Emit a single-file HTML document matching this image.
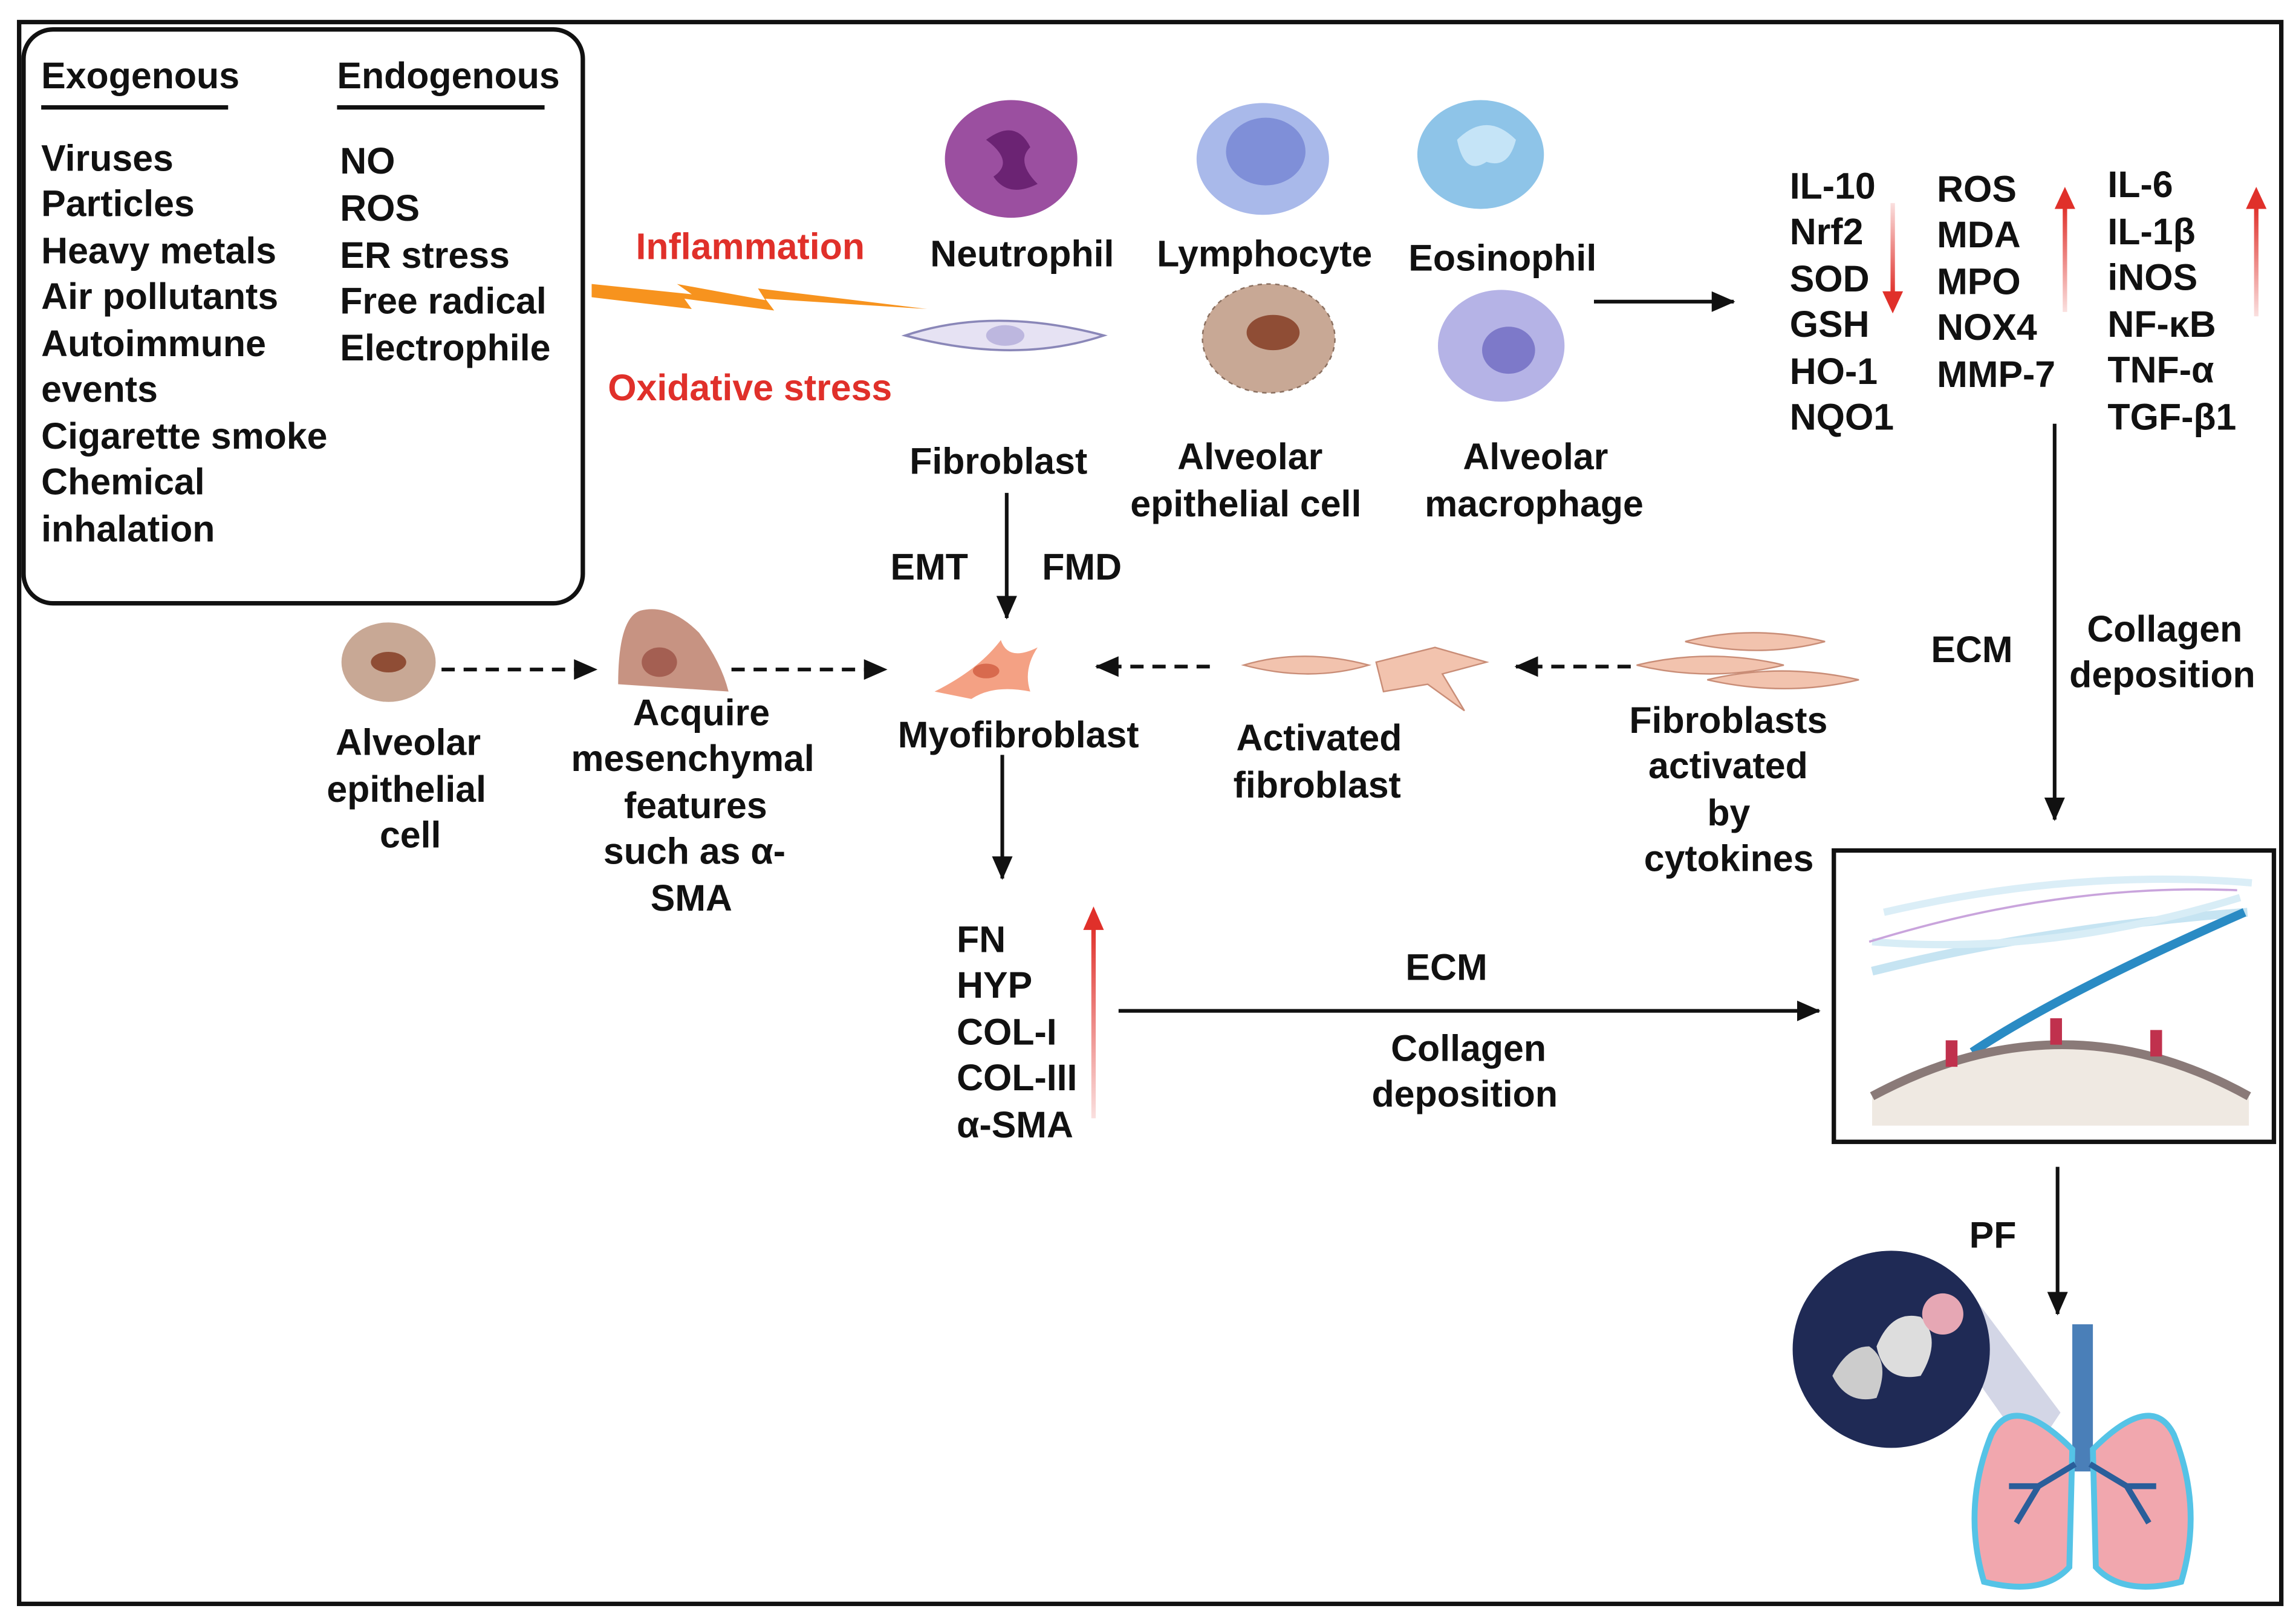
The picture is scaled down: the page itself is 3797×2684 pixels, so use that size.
<!DOCTYPE html>
<html><head><meta charset="utf-8"><style>
html,body{margin:0;padding:0;background:#fff;}
svg{display:block;}
text{font-family:"Liberation Sans",Arial,sans-serif;font-weight:bold;font-size:25px;fill:#111;}
</style></head><body>
<svg width="3797" height="2684" viewBox="0 0 1560 1103" preserveAspectRatio="none" xmlns="http://www.w3.org/2000/svg">
<defs>
<marker id="ahb" markerWidth="16" markerHeight="14" refX="15" refY="7" orient="auto" markerUnits="userSpaceOnUse"><path d="M0,0 L16,7 L0,14 z" fill="#111"/></marker>
<linearGradient id="rg" x1="0" y1="0" x2="0" y2="1"><stop offset="0" stop-color="#e0302a"/><stop offset="1" stop-color="#e0302a" stop-opacity="0.15"/></linearGradient>
<linearGradient id="rgd" x1="0" y1="1" x2="0" y2="0"><stop offset="0" stop-color="#e0302a"/><stop offset="1" stop-color="#e0302a" stop-opacity="0.15"/></linearGradient>
</defs>
<rect x="0" y="0" width="1560" height="1103" fill="#fff"/>
<rect x="13" y="15" width="1537" height="1075" fill="none" stroke="#111" stroke-width="3"/>
<rect x="16" y="20" width="380" height="390" rx="20" fill="none" stroke="#111" stroke-width="3"/>

<text x="28" y="60">Exogenous</text>
<line x1="28" y1="73" x2="155" y2="73" stroke="#111" stroke-width="3"/>
<text x="229" y="60">Endogenous</text>
<line x1="229" y1="73" x2="370" y2="73" stroke="#111" stroke-width="3"/>
<text x="28" y="116">Viruses</text>
<text x="28" y="147">Particles</text>
<text x="28" y="179">Heavy metals</text>
<text x="28" y="210">Air pollutants</text>
<text x="28" y="242">Autoimmune</text>
<text x="28" y="273">events</text>
<text x="28" y="305">Cigarette smoke</text>
<text x="28" y="336">Chemical</text>
<text x="28" y="368">inhalation</text>
<text x="231" y="118">NO</text>
<text x="231" y="150">ROS</text>
<text x="231" y="182">ER stress</text>
<text x="231" y="213">Free radical</text>
<text x="231" y="245">Electrophile</text>

<text x="432" y="176" style="fill:#e0302a">Inflammation</text>
<text x="413" y="272" style="fill:#e0302a">Oxidative stress</text>
<polygon points="402,193 470,200 460,193 520,204 515,196 630,210 520,203 526,211 465,203 470,210 402,202" fill="#f7931e"/>

<ellipse cx="687" cy="108" rx="45" ry="40" fill="#9b4fa0"/><path d="M670,95 q20,-15 30,5 q-10,10 5,25 q-20,10 -30,-5 q15,-10 -5,-25z" fill="#6b2373"/>
<text x="632" y="181">Neutrophil</text>
<ellipse cx="858" cy="108" rx="45" ry="38" fill="#a9b9ea"/><ellipse cx="860" cy="103" rx="27" ry="23" fill="#7f8fd8"/>
<text x="786" y="181">Lymphocyte</text>
<ellipse cx="1006" cy="105" rx="43" ry="37" fill="#8ec4e8"/><path d="M990,95 q20,-20 40,0 q-5,20 -20,15 q-15,10 -20,-15z" fill="#c5e4f7"/>
<text x="957" y="184">Eosinophil</text>
<path d="M615,228 q60,-20 135,0 q-60,20 -135,0z" fill="#e6e2f3" stroke="#8a87b8" stroke-width="1.5"/><ellipse cx="683" cy="228" rx="13" ry="7" fill="#bdb7df"/>
<text x="618" y="322">Fibroblast</text>
<ellipse cx="862" cy="230" rx="45" ry="37" fill="#c8a895" stroke="#8a6f5f" stroke-dasharray="3,3"/><ellipse cx="865" cy="226" rx="18" ry="12" fill="#8f4d35"/>
<text x="800" y="319">Alveolar</text>
<text x="768" y="351">epithelial cell</text>
<ellipse cx="1020" cy="235" rx="43" ry="38" fill="#b5b3e6"/><ellipse cx="1025" cy="238" rx="18" ry="16" fill="#7d79c9"/>
<text x="994" y="319">Alveolar</text>
<text x="968" y="351">macrophage</text>

<line x1="1083" y1="205" x2="1178" y2="205" stroke="#111" stroke-width="2.5" marker-end="url(#ahb)"/>

<text x="1216" y="135">IL-10</text><text x="1216" y="166">Nrf2</text><text x="1216" y="198">SOD</text><text x="1216" y="229">GSH</text><text x="1216" y="261">HO-1</text><text x="1216" y="292">NQO1</text>
<rect x="1284.5" y="138" width="3" height="62" fill="url(#rgd)"/><path d="M1279,198 L1286,213 L1293,198z" fill="#e0302a"/>
<text x="1316" y="137">ROS</text><text x="1316" y="168">MDA</text><text x="1316" y="200">MPO</text><text x="1316" y="231">NOX4</text><text x="1316" y="263">MMP-7</text>
<rect x="1401.5" y="140" width="3" height="72" fill="url(#rg)"/><path d="M1396,142 L1403,127 L1410,142z" fill="#e0302a"/>
<text x="1432" y="134">IL-6</text><text x="1432" y="166">IL-1β</text><text x="1432" y="197">iNOS</text><text x="1432" y="229">NF-κB</text><text x="1432" y="260">TNF-α</text><text x="1432" y="292">TGF-β1</text>
<rect x="1531.5" y="140" width="3" height="75" fill="url(#rg)"/><path d="M1526,142 L1533,127 L1540,142z" fill="#e0302a"/>

<line x1="1396" y1="288" x2="1396" y2="557" stroke="#111" stroke-width="2.5" marker-end="url(#ahb)"/>
<text x="1312" y="450">ECM</text>
<text x="1418" y="436">Collagen</text>
<text x="1406" y="467">deposition</text>

<line x1="684" y1="335" x2="684" y2="420" stroke="#111" stroke-width="2.5" marker-end="url(#ahb)"/>
<text x="605" y="394">EMT</text><text x="708" y="394">FMD</text>

<ellipse cx="264" cy="450" rx="32" ry="27" fill="#c8a895"/><ellipse cx="264" cy="450" rx="12" ry="7" fill="#8f4d35"/>
<text x="228" y="513">Alveolar</text><text x="222" y="545">epithelial</text><text x="258" y="576">cell</text>
<line x1="300" y1="455" x2="405" y2="455" stroke="#111" stroke-width="2.5" stroke-dasharray="9,6" marker-end="url(#ahb)"/>
<path d="M420,465 q0,-45 15,-50 q20,-5 40,15 q15,20 20,40z" fill="#c79382"/><ellipse cx="448" cy="450" rx="12" ry="10" fill="#a45f52"/>
<text x="430" y="493">Acquire</text><text x="388" y="524">mesenchymal</text><text x="424" y="556">features</text><text x="410" y="587">such as  α-</text><text x="442" y="619">SMA</text>
<line x1="497" y1="455" x2="602" y2="455" stroke="#111" stroke-width="2.5" stroke-dasharray="9,6" marker-end="url(#ahb)"/>
<path d="M635,470 q30,-15 45,-35 q5,15 25,5 q-10,15 -5,30 q-25,-5 -40,5z" fill="#f4a184"/><ellipse cx="670" cy="456" rx="9" ry="5" fill="#d86a4e"/>
<text x="610" y="508">Myofibroblast</text>
<line x1="822" y1="453" x2="745" y2="453" stroke="#111" stroke-width="2.5" stroke-dasharray="9,6" marker-end="url(#ahb)"/>
<path d="M845,452 q40,-12 85,0 q-40,12 -85,0z" fill="#f2c3ae" stroke="#c98d77"/>
<path d="M935,450 l40,-10 l35,10 l-30,8 l15,25 l-25,-18 l-30,5z" fill="#f2c3ae" stroke="#c98d77"/>
<text x="840" y="510">Activated</text><text x="838" y="542">fibroblast</text>
<line x1="1108" y1="453" x2="1030" y2="453" stroke="#111" stroke-width="2.5" stroke-dasharray="9,6" marker-end="url(#ahb)"/>
<path d="M1145,436 q45,-12 95,0 q-45,12 -95,0z" fill="#f2c3ae" stroke="#c98d77"/>
<path d="M1112,452 q50,-12 100,0 q-50,12 -100,0z" fill="#f2c3ae" stroke="#c98d77"/>
<path d="M1160,462 q50,-12 103,0 q-50,12 -103,0z" fill="#f2c3ae" stroke="#c98d77"/>
<text x="1107" y="498">Fibroblasts</text><text x="1120" y="529">activated</text><text x="1160" y="561">by</text><text x="1117" y="592">cytokines</text>

<line x1="681" y1="513" x2="681" y2="597" stroke="#111" stroke-width="2.5" marker-end="url(#ahb)"/>
<text x="650" y="647">FN</text><text x="650" y="678">HYP</text><text x="650" y="710">COL-I</text><text x="650" y="741">COL-III</text><text x="650" y="773">α-SMA</text>
<rect x="741.5" y="628" width="3" height="132" fill="url(#rg)"/><path d="M736,632 L743,616 L750,632z" fill="#e0302a"/>
<line x1="760" y1="687" x2="1236" y2="687" stroke="#111" stroke-width="2.5" marker-end="url(#ahb)"/>
<text x="955" y="666">ECM</text>
<text x="945" y="721">Collagen</text><text x="932" y="752">deposition</text>

<rect x="1246" y="578" width="299" height="198" fill="#fff" stroke="#111" stroke-width="3"/>
<path d="M1272,660 q120,-30 255,-40" stroke="#c6e4f2" stroke-width="6" fill="none"/>
<path d="M1280,620 q130,-30 250,-20" stroke="#dbeef7" stroke-width="5" fill="none"/>
<path d="M1272,640 q120,10 250,-30" stroke="#d8edf6" stroke-width="5" fill="none"/>
<path d="M1340,715 q60,-40 185,-95" stroke="#2a8bc4" stroke-width="6" fill="none"/>
<path d="M1270,640 q130,-40 250,-35" stroke="#c9a4dc" stroke-width="1.5" fill="none"/>
<path d="M1272,745 q130,-70 256,0 L1528,765 L1272,765z" fill="#efe9e2"/>
<path d="M1272,745 q130,-70 256,0" stroke="#8a7a78" stroke-width="6" fill="none"/>
<rect x="1322" y="707" width="8" height="18" fill="#c0314d"/><rect x="1393" y="692" width="8" height="18" fill="#c0314d"/><rect x="1461" y="700" width="8" height="18" fill="#c0314d"/>

<line x1="1398" y1="793" x2="1398" y2="893" stroke="#111" stroke-width="2.5" marker-end="url(#ahb)"/>
<text x="1338" y="848">PF</text>

<polygon points="1320,905 1340,880 1400,960 1380,990" fill="#b6bbd6" opacity="0.6"/>
<circle cx="1285" cy="917" r="67" fill="#1f2a55"/>
<path d="M1245,935 q10,-20 25,-20 q15,10 5,35 q-20,5 -30,-15z" fill="#ccc"/>
<path d="M1275,915 q10,-25 30,-20 q15,15 0,40 q-25,5 -30,-20z" fill="#ddd"/>
<circle cx="1320" cy="893" r="14" fill="#e6a7b4"/>
<rect x="1408" y="900" width="14" height="100" fill="#4a7fb8"/>
<path d="M1408,985 q-40,-40 -55,-10 q-20,50 -5,100 q40,10 58,-10z" fill="#f1a7ae" stroke="#55c3e6" stroke-width="4"/>
<path d="M1422,985 q40,-40 55,-10 q20,50 5,100 q-40,10 -58,-10z" fill="#f1a7ae" stroke="#55c3e6" stroke-width="4"/>
<path d="M1410,995 l-25,15 l-15,25 M1385,1010 l-20,0 M1420,995 l25,15 l15,25 M1445,1010 l20,0" stroke="#2a5e9a" stroke-width="4" fill="none"/>
</svg>
</body></html>
